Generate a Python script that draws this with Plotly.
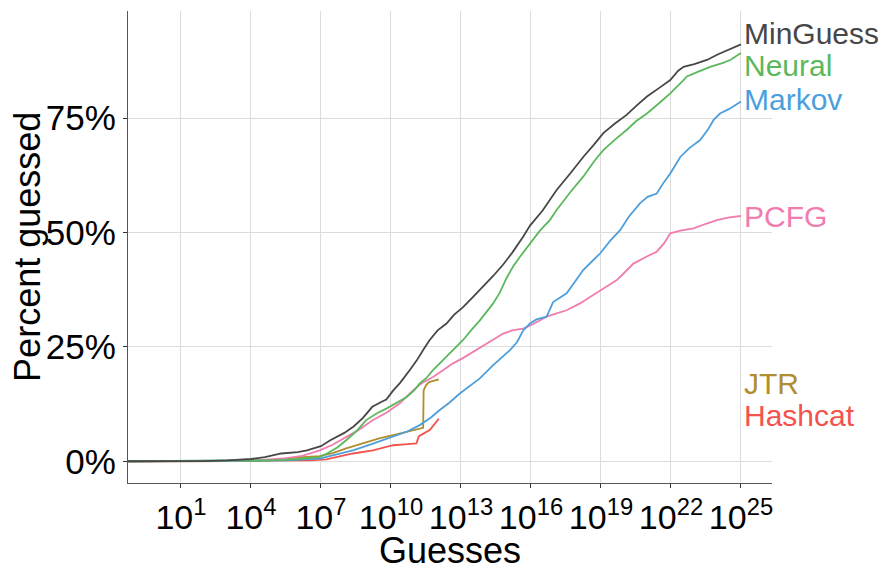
import plotly.graph_objects as go

# ---- data: log10(guesses) and percent guessed ----
series_names = ["MinGuess", "Neural", "Markov", "PCFG", "JTR", "Hashcat"]
series_colors = ["#474747", "#5cb85c", "#4c9fdc", "#f07cb0", "#b08d2e", "#f4524d"]

minguess_log10 = [-1.3, 0, 2, 3, 4, 4.6, 5.0, 5.3, 6.0, 6.4, 7.0, 7.4, 8.0, 8.4, 8.8, 9.2, 9.6, 9.8,
                  10.1, 10.4, 10.8, 11.1, 11.4, 11.66, 12.0, 12.38, 12.7, 13.09, 13.5, 13.95, 14.4,
                  14.81, 15.2, 15.67, 15.96, 16.5, 17.1, 17.7, 18.24, 18.7, 19.1, 19.6, 20.1, 20.5,
                  20.97, 21.5, 21.97, 22.3, 22.54, 23.0, 23.54, 24.0, 24.5, 25.0]
minguess_pct = [0, 0, 0.05, 0.2, 0.5, 0.9, 1.3, 1.7, 2.0, 2.4, 3.3, 4.6, 6.2, 7.6, 9.5, 11.9, 13.0, 13.5,
                15.5, 17.2, 19.9, 22.0, 24.5, 26.5, 28.6, 30.1, 32.0, 33.7, 35.8, 38.1, 40.6,
                43.0, 45.6, 49.1, 51.5, 54.8, 59.3, 63.0, 66.5, 69.2, 71.7, 73.8, 75.7, 77.6,
                79.7, 81.6, 83.3, 85.3, 86.2, 86.8, 87.7, 88.9, 90.0, 91.1]

neural_log10 = [-1.3, 3, 5, 6.0, 6.94, 7.3, 7.7, 8.08, 8.5, 8.94, 9.4, 9.8, 10.2, 10.66, 11.0, 11.23,
                11.52, 11.8, 12.23, 12.66, 13.09, 13.45, 13.81, 14.38, 14.67, 14.95, 15.24, 15.53,
                15.96, 16.4, 16.81, 17.1, 17.7, 18.24, 18.7, 19.1, 19.6, 20.1, 20.5, 20.97, 21.5,
                21.97, 22.54, 22.68, 23.2, 23.68, 24.2, 24.54, 25.0]
neural_pct = [0, 0.05, 0.2, 0.5, 0.9, 1.8, 3.0, 4.6, 6.5, 9.0, 10.5, 11.5, 12.6, 14.0, 15.5, 17.0,
              18.2, 19.9, 22.1, 24.3, 26.5, 28.7, 30.8, 34.5, 36.9, 40.0, 42.6, 44.7,
              47.5, 50.5, 52.7, 54.9, 58.9, 62.2, 65.5, 68.0, 70.3, 72.4, 74.3, 76.0, 78.3,
              80.4, 83.3, 84.1, 85.2, 86.2, 87.0, 87.7, 89.2]

markov_log10 = [-1.3, 4, 5.5, 6.94, 7.7, 8.37, 9.2, 10.09, 10.7, 11.23, 11.7, 12.09, 12.5, 12.95,
                13.52, 13.81, 14.38, 14.8, 15.1, 15.4, 15.67, 15.96, 16.24, 16.67, 16.95, 17.53,
                17.9, 18.24, 18.6, 18.96, 19.4, 19.82, 20.2, 20.68, 21.0, 21.39, 21.7, 21.97, 22.4,
                22.8, 23.25, 23.6, 23.83, 24.1, 24.5, 25.0]
markov_pct = [0, 0.05, 0.2, 0.6, 1.5, 2.4, 3.8, 5.3, 6.5, 7.9, 9.5, 11.2, 12.8, 14.8,
              17.0, 18.1, 21.0, 23.0, 24.3, 26.0, 28.6, 30.1, 31.0, 31.6, 34.8, 36.7,
              39.5, 41.8, 43.6, 45.4, 48.2, 50.5, 53.5, 56.4, 57.8, 58.5, 61.0, 62.9, 66.5,
              68.5, 70.2, 72.6, 74.6, 76.0, 77.0, 78.6]

pcfg_log10 = [-1.3, 3, 4.5, 5.36, 6.2, 6.94, 7.5, 8.08, 8.6, 9.23, 9.8, 10.37, 10.94, 11.3, 11.8,
              12.23, 12.66, 13.1, 13.52, 14.2, 14.81, 15.2, 15.67, 16.1, 16.67, 17.1, 17.53, 18.1,
              18.67, 19.2, 19.68, 20.0, 20.39, 20.9, 21.39, 21.7, 21.97, 22.4, 22.97, 23.5, 23.97,
              24.5, 25.0]
pcfg_pct = [0, 0.05, 0.3, 0.6, 1.2, 2.4, 3.6, 5.3, 6.8, 9.0, 10.6, 12.6, 15.5, 17.0, 18.4,
            19.9, 21.4, 22.6, 23.9, 26.0, 27.9, 28.6, 29.0, 30.0, 31.6, 32.3, 33.0, 34.5,
            36.3, 38.0, 39.6, 41.2, 43.2, 44.6, 45.8, 47.6, 49.8, 50.4, 50.9, 51.9, 52.7,
            53.3, 53.6]

jtr_log10 = [-1.3, 4, 5.0, 5.5, 6.2, 6.94, 7.5, 8.08, 8.5, 8.94, 9.5, 10.09, 10.5, 10.94, 11.38,
             11.40, 11.5, 11.63, 12.05]
jtr_pct = [0, 0.05, 0.3, 0.6, 0.9, 1.1, 1.8, 2.8, 3.5, 4.2, 5.0, 5.7, 6.2, 6.8, 7.3,
           15.5, 16.6, 17.3, 17.9]

hashcat_log10 = [-1.3, 5, 6.5, 7.23, 7.8, 8.37, 9.23, 10.09, 10.6, 11.09, 11.2, 11.66, 11.85, 12.05]
hashcat_pct = [0, 0.05, 0.2, 0.4, 1.0, 1.7, 2.4, 3.5, 3.7, 3.9, 5.5, 6.8, 8.0, 9.3]

# end-of-line label positions (percent)
label_pct = [93.5, 86.5, 79.0, 53.4, 17.0, 9.9]
label_log10 = 25

x_tick_exponents = [1, 4, 7, 10, 13, 16, 19, 22, 25]
x_tick_text = ["10<sup>%d</sup>" % e for e in x_tick_exponents]
y_tick_vals = [0, 25, 50, 75]
y_tick_text = ["0%", "25%", "50%", "75%"]

all_log10 = [minguess_log10, neural_log10, markov_log10, pcfg_log10, jtr_log10, hashcat_log10]
all_pct = [minguess_pct, neural_pct, markov_pct, pcfg_pct, jtr_pct, hashcat_pct]

FONT = "Liberation Sans, Arial, Helvetica, sans-serif"

fig = go.Figure()
# draw in order so MinGuess is on top
for i in reversed(range(len(series_names))):
    fig.add_trace(go.Scatter(
        x=[10.0 ** v for v in all_log10[i]], y=all_pct[i], mode="lines",
        name=series_names[i], line=dict(color=series_colors[i], width=1.8),
        showlegend=False))

for name, color, yv in zip(series_names, series_colors, label_pct):
    fig.add_annotation(x=label_log10, y=yv, xref="x", yref="y", text=name,
                       showarrow=False, xanchor="left", yanchor="middle", xshift=1,
                       font=dict(family=FONT, size=30, color=color))

fig.add_annotation(x=0.5, y=-0.144, xref="paper", yref="paper", text="Guesses",
                   showarrow=False, xanchor="center", yanchor="middle",
                   font=dict(family=FONT, size=36, color="black"))
fig.add_annotation(x=-0.157, y=0.5, xref="paper", yref="paper", text="Percent guessed",
                   showarrow=False, xanchor="center", yanchor="middle", textangle=-90,
                   font=dict(family=FONT, size=36, color="black"))

# the page body adds an 8px offset, so margins are reduced by 8px on the left/top
fig.update_layout(
    width=886, height=567,
    margin=dict(l=120, r=122, t=3, b=92),
    paper_bgcolor="white", plot_bgcolor="white",
    font=dict(family=FONT, color="black"),
    xaxis=dict(type="log", range=[-1.27, 26.33],
               tickvals=[10.0 ** e for e in x_tick_exponents], ticktext=x_tick_text,
               tickfont=dict(size=34, color="black"),
               showgrid=True, gridcolor="#dcdcdc", gridwidth=1,
               showline=True, linecolor="#555555", linewidth=1.3,
               ticks="outside", ticklen=4, tickcolor="#333333", tickwidth=1.3,
               zeroline=False),
    yaxis=dict(range=[-4.75, 98.4], tickvals=y_tick_vals, ticktext=y_tick_text,
               tickfont=dict(size=35, color="black"),
               showgrid=True, gridcolor="#dcdcdc", gridwidth=1,
               showline=True, linecolor="#555555", linewidth=1.3,
               ticks="outside", ticklen=4, tickcolor="#333333", tickwidth=1.3,
               zeroline=False),
)

fig.write_html("out.html")
